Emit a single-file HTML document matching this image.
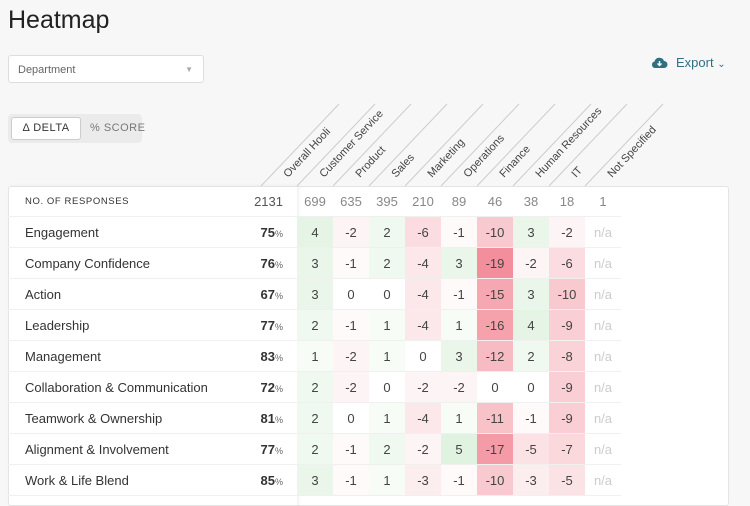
<!DOCTYPE html>
<html><head><meta charset="utf-8"><style>
*{margin:0;padding:0;box-sizing:border-box}
body{width:750px;height:495px;overflow:hidden;background:#f7f7f7;font-family:"Liberation Sans",sans-serif;color:#333;position:relative}
.title{position:absolute;left:8px;top:6px;font-size:25px;color:#222;font-weight:normal}
.dd{position:absolute;left:8px;top:55px;width:196px;height:28px;background:#fff;border:1px solid #ddd;border-radius:3px;font-size:11px;color:#666;padding:8px 0 0 9px}
.dd span{position:absolute;right:10px;top:9px;font-size:8px;color:#aaa}
.exp{position:absolute;left:651px;top:55px;font-size:13px;color:#2f6f7f}
.tog{position:absolute;left:8px;top:114px;width:134px;height:29px;background:#ebebeb;border-radius:4px}
.tog .a{position:absolute;left:3px;top:3px;width:70px;height:23px;background:#fff;border:1px solid #ccc;border-radius:3px;font-size:11px;letter-spacing:.5px;color:#333;text-align:center;line-height:21px;white-space:nowrap}
.tog .b{position:absolute;left:82px;top:3px;font-size:11px;letter-spacing:.5px;color:#777;line-height:23px;white-space:nowrap}
.card{position:absolute;left:8px;top:186px;width:721px;height:320px;background:#fff;border:1px solid #e4e4e4;border-radius:3px}
.left{position:absolute;left:8px;top:186px;width:289px;height:320px;box-shadow:2px 0 3px rgba(0,0,0,.06)}
.row{position:absolute;left:8px;width:613px;height:31px;border-bottom:1px solid #f0f0f0;display:flex;font-size:13px}
.lab{width:289px;position:relative;padding-left:17px;line-height:32px;color:#333}
.lab b{position:absolute;right:14px;top:0;font-weight:bold;color:#333}
.lab b i{font-style:normal;font-size:9px;font-weight:normal;color:#666}
.c{width:36px;text-align:center;line-height:32px;color:#444}
.h .lab{font-size:9.5px;letter-spacing:.6px;color:#333}
.h .c{color:#888;font-size:13px}
.na{color:#ccc}
.p1{background:#f7fcf7}.p2{background:#f0f9f0}.p3{background:#eaf6ea}.p4{background:#e5f4e5}.p5{background:#e0f2e0}
.n1{background:#fefafa}.n2{background:#fdf4f5}.n3{background:#fcedef}.n4{background:#fce7ea}.n5{background:#fbe2e5}.n6{background:#fbdde1}.n7{background:#fad8dc}.n8{background:#f9d3d8}.n9{background:#f9ced4}.n10{background:#f8c9cf}.n11{background:#f8c2c9}.n12{background:#f7bbc3}.n15{background:#f5a7b2}.n16{background:#f5a2ad}.n17{background:#f49ba7}.n19{background:#f38f9d}
</style></head><body>
<div class="title">Heatmap</div>
<div class="dd">Department<span>▼</span></div>
<div class="exp"><svg width="17" height="13" viewBox="0 0 17 13" style="vertical-align:-2px;margin-right:8px"><path d="M4 12 H13 A3.5 3.5 0 0 0 13 5 A5 5 0 0 0 3.5 5.5 A3.3 3.3 0 0 0 4 12Z" fill="#2f6f7f"/><path d="M8.5 5 V9.5 M6.5 7.5 L8.5 9.5 L10.5 7.5" stroke="#fff" stroke-width="1.4" fill="none"/></svg>Export <span style="font-size:10px">⌄</span></div>
<div class="tog"><div class="a">Δ DELTA</div><div class="b">% SCORE</div></div>
<svg style="position:absolute;left:0;top:0" width="750" height="190">
<g stroke="#ccc" stroke-width="1">
<line x1="261" y1="186" x2="339" y2="104"/><line x1="297" y1="186" x2="375" y2="104"/><line x1="333" y1="186" x2="411" y2="104"/><line x1="369" y1="186" x2="447" y2="104"/><line x1="405" y1="186" x2="483" y2="104"/><line x1="441" y1="186" x2="519" y2="104"/><line x1="477" y1="186" x2="555" y2="104"/><line x1="513" y1="186" x2="591" y2="104"/><line x1="549" y1="186" x2="627" y2="104"/><line x1="585" y1="186" x2="663" y2="104"/>
</g>
<g font-family="Liberation Sans,sans-serif" font-size="11" fill="#444">
<text transform="translate(288,178) rotate(-47)">Overall Hooli</text>
<text transform="translate(324,178) rotate(-47)">Customer Service</text>
<text transform="translate(360,178) rotate(-47)">Product</text>
<text transform="translate(396,178) rotate(-47)">Sales</text>
<text transform="translate(432,178) rotate(-47)">Marketing</text>
<text transform="translate(468,178) rotate(-47)">Operations</text>
<text transform="translate(504,178) rotate(-47)">Finance</text>
<text transform="translate(540,178) rotate(-47)">Human Resources</text>
<text transform="translate(576,178) rotate(-47)">IT</text>
<text transform="translate(612,178) rotate(-47)">Not Specified</text>
</g></svg>
<div class="card"></div>
<div class="left"></div>
<div class="row h" style="top:186px"><div class="lab">NO. OF RESPONSES<b style="font-weight:normal;color:#555;font-size:13px;letter-spacing:0">2131</b></div><div class="c">699</div><div class="c">635</div><div class="c">395</div><div class="c">210</div><div class="c">89</div><div class="c">46</div><div class="c">38</div><div class="c">18</div><div class="c">1</div></div>
<div class="row" style="top:217px"><div class="lab">Engagement<b>75<i>%</i></b></div><div class="c p4">4</div><div class="c n2">-2</div><div class="c p2">2</div><div class="c n6">-6</div><div class="c n1">-1</div><div class="c n10">-10</div><div class="c p3">3</div><div class="c n2">-2</div><div class="c na">n/a</div></div>
<div class="row" style="top:248px"><div class="lab">Company Confidence<b>76<i>%</i></b></div><div class="c p3">3</div><div class="c n1">-1</div><div class="c p2">2</div><div class="c n4">-4</div><div class="c p3">3</div><div class="c n19">-19</div><div class="c n2">-2</div><div class="c n6">-6</div><div class="c na">n/a</div></div>
<div class="row" style="top:279px"><div class="lab">Action<b>67<i>%</i></b></div><div class="c p3">3</div><div class="c">0</div><div class="c">0</div><div class="c n4">-4</div><div class="c n1">-1</div><div class="c n15">-15</div><div class="c p3">3</div><div class="c n10">-10</div><div class="c na">n/a</div></div>
<div class="row" style="top:310px"><div class="lab">Leadership<b>77<i>%</i></b></div><div class="c p2">2</div><div class="c n1">-1</div><div class="c p1">1</div><div class="c n4">-4</div><div class="c p1">1</div><div class="c n16">-16</div><div class="c p4">4</div><div class="c n9">-9</div><div class="c na">n/a</div></div>
<div class="row" style="top:341px"><div class="lab">Management<b>83<i>%</i></b></div><div class="c p1">1</div><div class="c n2">-2</div><div class="c p1">1</div><div class="c">0</div><div class="c p3">3</div><div class="c n12">-12</div><div class="c p2">2</div><div class="c n8">-8</div><div class="c na">n/a</div></div>
<div class="row" style="top:372px"><div class="lab">Collaboration &amp; Communication<b>72<i>%</i></b></div><div class="c p2">2</div><div class="c n2">-2</div><div class="c">0</div><div class="c n2">-2</div><div class="c n2">-2</div><div class="c">0</div><div class="c">0</div><div class="c n9">-9</div><div class="c na">n/a</div></div>
<div class="row" style="top:403px"><div class="lab">Teamwork &amp; Ownership<b>81<i>%</i></b></div><div class="c p2">2</div><div class="c">0</div><div class="c p1">1</div><div class="c n4">-4</div><div class="c p1">1</div><div class="c n11">-11</div><div class="c n1">-1</div><div class="c n9">-9</div><div class="c na">n/a</div></div>
<div class="row" style="top:434px"><div class="lab">Alignment &amp; Involvement<b>77<i>%</i></b></div><div class="c p2">2</div><div class="c n1">-1</div><div class="c p2">2</div><div class="c n2">-2</div><div class="c p5">5</div><div class="c n17">-17</div><div class="c n5">-5</div><div class="c n7">-7</div><div class="c na">n/a</div></div>
<div class="row" style="top:465px"><div class="lab">Work &amp; Life Blend<b>85<i>%</i></b></div><div class="c p3">3</div><div class="c n1">-1</div><div class="c p1">1</div><div class="c n3">-3</div><div class="c n1">-1</div><div class="c n10">-10</div><div class="c n3">-3</div><div class="c n5">-5</div><div class="c na">n/a</div></div>
</body></html>
